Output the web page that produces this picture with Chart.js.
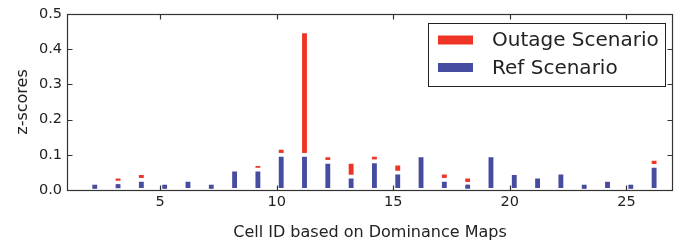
<!DOCTYPE html>
<html>
<head>
<meta charset="utf-8">
<script src="https://cdn.jsdelivr.net/npm/chart.js@4/dist/chart.umd.min.js"></script>
<style>
  html, body { margin: 0; padding: 0; background: #fff; }
  #wrap { width: 686px; height: 242px; }
</style>
</head>
<body>
<div id="wrap"><canvas id="chart" width="686" height="242"></canvas></div>
<script>
// data
const cellIds = [2, 3, 4, 5, 6, 7, 8, 9, 10, 11, 12, 13, 14, 15, 16, 17, 18, 19, 20, 21, 22, 23, 24, 25, 26];
const refScores = [0.018, 0.021, 0.029, 0.018, 0.029, 0.018, 0.058, 0.058, 0.100, 0.100, 0.080, 0.038, 0.082,
  0.050, 0.099, 0.029, 0.018, 0.099, 0.048, 0.038, 0.050, 0.018, 0.029, 0.018, 0.069];
const outageScores = [0.018, 0.038, 0.048, 0.018, 0.029, 0.018, 0.058, 0.074, 0.120, 0.451, 0.099, 0.080, 0.100,
  0.075, 0.099, 0.050, 0.038, 0.099, 0.048, 0.038, 0.050, 0.018, 0.029, 0.018, 0.089];
const seriesNames = ["Outage Scenario", "Ref Scenario"];
const xTicks = [5, 10, 15, 20, 25];
const yTicks = [0, 0.1, 0.2, 0.3, 0.4, 0.5];

const RED = "rgb(238,52,36)";
const BLUE = "rgb(70,76,160)";
const INK = "#222";
const FONT = "DejaVu Sans";
const BAR_WIDTH = 0.38; // bars sit on the right of the cell id (edge aligned)

function points(values) {
  return cellIds.map((id, i) => ({ x: id + BAR_WIDTH / 2, y: values[i] }));
}

function barSet(label, values, color, order) {
  return {
    label: label,
    data: points(values),
    backgroundColor: color,
    borderColor: "#fff",
    borderWidth: 4,
    inflateAmount: 2,
    borderSkipped: false,
    grouped: false,
    barPercentage: BAR_WIDTH,
    categoryPercentage: 1,
    order: order,
  };
}

// box, inward ticks on all sides, axis titles and the legend
const decor = {
  id: "decor",
  afterDraw(chart) {
    const ctx = chart.ctx;
    const a = chart.chartArea;
    const x = chart.scales.x, y = chart.scales.y;
    const L = Math.round(a.left) + 0.5, R = Math.round(a.right) - 0.5;
    const T = Math.round(a.top) + 0.5, B = Math.round(a.bottom) + 0.5;
    ctx.save();
    ctx.strokeStyle = "#333";
    ctx.lineWidth = 1.2;
    ctx.strokeRect(L, T, R - L, B - T);
    ctx.beginPath();
    xTicks.forEach((v) => {
      const px = Math.round(x.getPixelForValue(v)) + 0.5;
      ctx.moveTo(px, B); ctx.lineTo(px, B - 5);
      ctx.moveTo(px, T); ctx.lineTo(px, T + 5);
    });
    yTicks.forEach((v) => {
      const py = Math.round(y.getPixelForValue(v)) + 0.5;
      ctx.moveTo(L, py); ctx.lineTo(L + 5, py);
      ctx.moveTo(R, py); ctx.lineTo(R - 5, py);
    });
    ctx.stroke();

    // axis titles
    ctx.fillStyle = INK;
    ctx.font = "16px '" + FONT + "'";
    ctx.textAlign = "center";
    ctx.textBaseline = "alphabetic";
    ctx.fillText("Cell ID based on Dominance Maps", (a.left + a.right) / 2, 237);
    ctx.save();
    ctx.translate(27, (a.top + a.bottom) / 2);
    ctx.rotate(-Math.PI / 2);
    ctx.fillText("z-scores", 0, 0);
    ctx.restore();

    // legend box
    const bx = 428.5, by = 23.5, bw = 237, bh = 63;
    ctx.fillStyle = "#fff";
    ctx.fillRect(bx, by, bw, bh);
    ctx.strokeStyle = "#222";
    ctx.lineWidth = 1;
    ctx.strokeRect(bx, by, bw, bh);
    const colors = [RED, BLUE];
    ctx.font = "20px '" + FONT + "'";
    ctx.textAlign = "left";
    ctx.textBaseline = "middle";
    seriesNames.forEach((name, i) => {
      const cy = 40 + i * 27.5;
      ctx.fillStyle = colors[i];
      ctx.fillRect(438, cy - 4.5, 35, 9);
      ctx.fillStyle = INK;
      ctx.fillText(name, 492, cy + 1);
    });
    ctx.restore();
  },
};

new Chart(document.getElementById("chart"), {
  type: "bar",
  data: {
    datasets: [
      barSet(seriesNames[0], outageScores, RED, 1),
      barSet(seriesNames[1], refScores, BLUE, 0),
    ],
  },
  options: {
    responsive: false,
    animation: false,
    layout: { padding: { left: 0, right: 13, top: 14, bottom: 0 } },
    plugins: { legend: { display: false }, tooltip: { enabled: false } },
    scales: {
      x: {
        type: "linear",
        min: 1,
        max: 27,
        offset: false,
        grid: { display: false, offset: false, drawTicks: false },
        border: { display: false },
        afterBuildTicks: (s) => { s.ticks = xTicks.map((v) => ({ value: v })); },
        afterFit: (s) => { s.height = 52; },
        ticks: { color: INK, padding: 4, font: { family: FONT, size: 14.5 } },
      },
      y: {
        min: 0,
        max: 0.5,
        grid: { display: false, drawTicks: false },
        border: { display: false },
        afterBuildTicks: (s) => { s.ticks = yTicks.map((v) => ({ value: v })); },
        afterFit: (s) => { s.width = 67; },
        ticks: {
          color: INK,
          padding: 5,
          font: { family: FONT, size: 14.5 },
          callback: (v) => Number(v).toFixed(1),
        },
      },
    },
  },
  plugins: [decor],
});
</script>
</body>
</html>
